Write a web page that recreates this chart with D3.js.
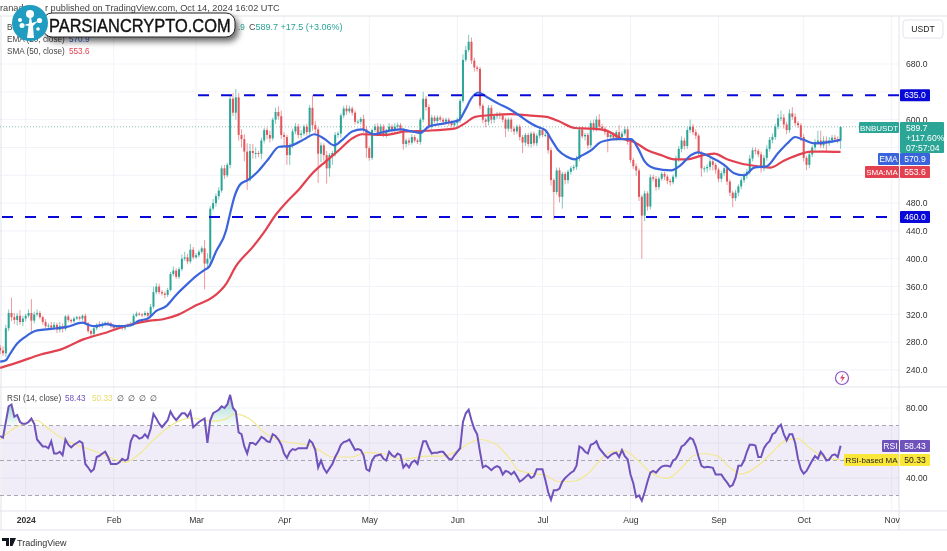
<!DOCTYPE html>
<html lang="en">
<head>
    <meta charset="UTF-8">
    <title>BNBUSDT daily chart</title>
    <script src="https://d3js.org/d3.v7.min.js"></script>
    <style>
        body {
            margin: 0;
            padding: 0;
            background-color: #fff;
            overflow: hidden;
        }
        svg {
            display: block;
            filter: blur(0.3px);
        }
        text {
            font-family: "Liberation Sans", Arial, sans-serif;
        }
        .axis text {
            font-size: 8.6px;
            fill: #333;
        }
        .axis path, .axis line {
            display: none;
        }
        .grid {
            stroke: #f1f3f8;
            stroke-width: 1;
        }
        .frame {
            stroke: #e0e3eb;
            stroke-width: 1;
        }
    </style>
</head>
<body>
    <div id="chart"></div>

    <script>
        // Daily candles, first one is Dec 23 2023. Open = previous close.
        const firstOpen = 272;
        const closes = [
            268,264,300,322,316,312,318,309,314,
            318,322,311,320,322,316,309,303,304,301,305,298,303,299,317,312,310,314,316,314,318,307,296,292,300,305,303,306,308,307,303,
            300,301,303,300,303,304,306,318,321,320,319,322,318,331,352,360,352,350,348,355,378,383,374,385,400,402,396,413,402,
            405,410,415,393,400,472,480,490,498,530,520,535,630,610,632,578,572,554,513,555,552,552,551,570,585,578,573,600,611,605,578,
            575,549,563,583,590,578,580,590,582,617,592,586,551,563,549,530,549,552,578,580,606,616,612,616,610,597,597,601,586,559,
            545,585,590,580,590,578,584,590,584,590,592,586,565,570,567,575,570,568,600,630,618,590,603,598,603,600,597,600,596,592,595,
            600,627,686,700,712,685,675,673,620,600,597,617,600,605,608,606,600,587,600,587,583,590,575,567,578,565,580,566,577,585,
            578,578,556,513,496,527,489,522,513,525,530,532,544,586,576,578,563,595,587,600,590,587,582,575,578,574,582,575,580,586,568,
            542,533,527,489,462,494,475,517,515,503,515,522,518,512,510,518,544,558,570,562,585,590,582,577,552,530,530,532,540,535,528,
            515,523,530,511,495,487,495,504,513,520,525,544,556,555,550,530,545,558,571,575,590,602,603,593,585,609,604,595,592,575,
            545,535,550,560,568,570,563,570,566,570,574,572,570,589.7
        ];
        // Wick length above the body top and below the body bottom, in price units
        const wickUp = [
            4,6,5,5,22,6,4,8,4,
            3,5,20,4,5,3,2,4,3,5,4,3,6,4,2,3,2,3,2,2,2,3,2,2,3,2,5,3,2,2,2,
            2,2,2,2,2,3,3,3,3,2,2,3,2,4,8,5,4,3,3,3,3,6,3,3,6,8,5,8,4,
            3,3,3,12,8,4,6,4,5,4,5,3,4,8,12,6,8,7,12,10,10,8,3,4,3,4,6,3,6,8,8,
            4,3,3,4,5,4,5,3,4,4,18,6,3,4,3,6,3,3,4,3,3,4,5,4,3,3,3,3,6,5,
            3,2,4,5,4,3,3,5,3,5,4,3,2,3,4,4,3,3,3,10,4,4,4,3,3,3,3,3,3,3,3,
            3,3,8,6,10,6,4,3,3,3,3,4,4,3,3,3,3,3,3,3,3,3,3,3,3,3,3,3,3,5,
            3,5,3,4,3,4,4,3,3,3,3,3,4,4,4,3,3,4,5,5,8,4,3,3,3,4,3,10,4,4,4,
            4,3,4,3,3,4,3,4,4,4,3,3,3,3,3,3,4,4,6,4,4,10,4,4,3,3,3,4,5,3,3,
            3,3,4,3,3,3,4,3,4,4,4,5,4,4,3,4,4,5,4,5,4,6,10,5,4,6,9,5,3,3,
            4,3,3,3,4,14,14,6,6,5,4,4,4,0.3
        ];
        const wickDown = [
            5,4,5,4,6,6,8,4,6,
            4,3,18,4,3,3,4,3,5,4,4,5,4,5,3,3,3,2,2,3,3,2,3,3,3,3,2,3,2,3,3,
            3,2,2,3,3,2,2,3,2,2,3,2,3,2,3,3,3,3,5,3,2,3,3,3,3,3,4,3,3,
            2,3,3,37,6,8,3,5,5,3,5,3,5,5,10,8,12,14,14,2,8,8,5,8,4,6,6,3,6,5,6,
            12,14,14,4,4,5,5,3,5,4,8,6,42,12,8,22,12,14,5,4,6,4,5,3,4,4,3,4,5,14,
            4,3,3,3,3,3,4,3,3,3,3,4,8,5,4,3,3,3,4,4,5,3,3,3,3,3,4,3,5,3,3,
            4,5,3,3,3,5,6,4,5,5,8,5,6,5,4,5,4,12,4,5,5,4,5,15,5,4,5,4,4,4,
            3,3,5,8,40,4,8,17,6,5,4,4,4,4,3,6,5,4,4,4,3,3,4,22,4,4,4,3,4,3,4,
            4,4,8,6,62,8,6,4,4,5,4,3,5,5,5,3,3,5,5,5,4,4,4,5,5,12,6,6,5,8,6,
            5,5,4,5,5,13,4,5,4,4,5,4,4,5,4,6,4,4,4,5,4,4,4,6,6,4,4,4,4,6,
            5,8,5,4,4,4,4,4,12,4,4,4,4,12
        ];

        // Moving averages: day number from Jan 1 2024, then value
        const emaDays = [-9,-7,-5.4,-3,0,3.3,6.3,11,14.5,20,22,24.4,28.5,32,36.7,40,43,46,49.5,53,56.5,60,63,64.5,67,70.6,71.7,73.5,75.8,78.2,81.7,85.2,89.3,92.8,98.6,101.6,105,108.6,111.5,115,118.5,122.6,126.7,132,136,139,142,148,152.5,154.8,157,159.5,163,166.5,170,173.5,177,180,183,185.2,187.6,190.5,193.4,195.7,199.2,202.2,204.5,208.6,213.3,215.6,218,221.5,227.3,230.8,234.3,236.7,241.3,246,249.5,253,256.6,261,265,268.3,271,274,277.6,281.6,287];
        const emaValues = [252,254,264,278,288,296,298,300,302,308,305,303,306,303,304,311,314,325,332,348,362,375,384,388,410,441,460,489,508,513,525,542,561,562,573,579,573,563,571,583,586,579,583,586,583,581,590,595,599,614,631,639,631,623,616,607,597,590,585,571,556,547,543,548,556,567,570,572,572,559,540,530,527,535,549,553,546,535,523,520,531,533,552,566,575,571,566,567,570.9];
        const smaDays = [-9,-2,5,12.7,20.3,28.5,36.7,43.7,48.4,54,60,66,70.6,74,80,84.6,87.5,91.6,96.3,101,105.7,110.3,115,118.5,126.7,133.7,140.8,151,154.8,158.3,165.3,171,177,183.4,187.6,193.4,199.2,204,209.7,214.3,219,223.8,228.4,233,237.8,242.5,247,251.9,257.7,262.4,267,271.8,276.5,281,287];
        const smaValues = [243,252,262,270,284,294,305,311,313,320,333,345,364,389,417,442,460,480,500,523,540,556,573,579,578,583,584,587,595,604,607,608,606,604,598,588,587,585,573,568,556,549,543,543,548,551,543,537,533,531,541,549,554,554,553.6];

        // RSI has one value per candle
        const rsiValues = [
            64,63,72,81,82,75,76,72,71,
            71,72,74,71,62,60,58,58,57,61,54,54,55,53,62,59,57.5,59,60,61,60,48,46,43.6,45,52,52.7,54,55,52,48,
            48,48,49,51,50,51,61,64.5,64,62.5,63,65,63,68,76.6,74,71,69,71,73,78,75,73,75,77,77,75,78,69,
            70.5,72,73,74,60,73,77,78,79,81,80,82,87.5,80,78,66,65,58,54,60,60,59,61,63.5,62.5,61,60.5,65,64,62,59,
            54,51.5,55,56.5,56,57,57,57,57,61.5,60,56,46,50,45.5,43,45.5,48,52,55,59,60.5,61,62,59,56,56.5,56,53,45,
            44,50,52.5,53,53.5,51,50,55,53,52,54,53,46,48,46,49,50,48,55,61,61,57,54,54.5,54.5,55,55,53,51,50.5,53,
            55,57,72,77,79,73,68,65,55,46,47,46,44.5,46,46.8,46,42,44,43.5,42,43.5,41,38,39,40.5,42,40,41,45,45,
            45,39,32,27.5,33,33,34,38,40,41.5,43,44,47,58,57,55,54,59,59.6,61,57,55,53,51.5,53,54,54.5,52,56,52.5,50.7,
            42,37,29,30,27,32,38,43,44,43,45,46.5,47,47,46.5,50,51,54,58,59,61,63,62,58,52,47,46,46.4,46.2,45.8,42,
            42,42,39.5,37.5,35,36,40,47,47,50,55,59,59,58.5,52,52,57,59.5,61,65,66,69,70.5,65,61.5,65,65,60,51,45,
            42.5,44,47,50,52.5,51,55,53,50,50.5,53,53.5,52,58.43
        ];
        const rsiMaDays = [-9,-5.4,-0.8,3.9,7.4,12.1,16.8,21.5,26,30.8,34.9,40.2,44.8,49.5,54.2,58.3,65.9,70.6,73.5,78.8,84.6,90.5,96.3,100.4,103.3,108,115,119.7,125.5,132.5,141.9,146.6,152.4,156,159.5,165.3,170,173.5,178.2,182.9,187.5,193.4,198.1,202.8,206.3,211,215.6,220.3,226,230.8,235.5,239,243.7,248.4,251.9,258.9,263.6,267.7,271.8,276.4,281.1,287];
        const rsiMaValues = [62,67,71,73,69,63.4,59.6,57,54.3,51,49,54,61.5,68,72.8,74.3,72.5,73.8,76.6,73.8,65.3,61,59.6,58.7,56,52,52,54.5,54,50.8,52.5,52.5,55.8,59.6,62,59.6,52,44.5,42.6,41.7,38,38.3,42.6,51,55,55.5,50,43,39.8,45.5,53,54,52.5,45.5,42.3,48.3,55.8,61.5,62.5,56.8,52,50.33];
        // Stretches of the RSI where the overbought gradient shows
        const overboughtSpans = [[-7, -3], [65, 75]];

        const priceTicks = [240, 280, 320, 360, 400, 440, 480, 520, 560, 600, 640, 680];
        // These tick labels sit behind the tags on the axis, only the grid line shows
        const hiddenPriceLabels = [520, 560, 640];
        const rsiTicks = [40, 60, 80];
        const hiddenRsiLabels = [60];
        const rsiBands = [70, 50, 30];
        const levels = [635, 460];
        const monthStarts = [[2024,0,"2024"],[2024,1,"Feb"],[2024,2,"Mar"],[2024,3,"Apr"],[2024,4,"May"],[2024,5,"Jun"],[2024,6,"Jul"],[2024,7,"Aug"],[2024,8,"Sep"],[2024,9,"Oct"],[2024,10,"Nov"]];

        const lastPrice = 589.7;
        const emaLast = 570.9;
        const smaLast = 553.6;
        const rsiLast = 58.43;
        const rsiMaLast = 50.33;

        const width = 947;
        const height = 551;
        const axisX = 899;

        const up = "#2aa596";
        const down = "#e2575c";
        const emaColor = "#3a64dc";
        const smaColor = "#e2414f";
        const rsiColor = "#6f52bb";
        const levelColor = "#0808d8";

        const svg = d3.select("#chart").append("svg")
            .attr("width", width)
            .attr("height", height);

        // Day numbers count from Jan 1 2024
        const dayMs = 86400000;
        const jan1 = Date.UTC(2024, 0, 1);
        const dayDate = d => new Date(jan1 + d * dayMs);
        const x = d3.scaleUtc()
            .domain([dayDate(0), new Date(Date.UTC(2024, 10, 1))])
            .range([25.7, 891.7]);
        const y = d3.scaleLinear().domain([240, 680]).range([370, 64]);
        const yRsi = d3.scaleLinear().domain([40, 80]).range([478, 408]);

        const candles = closes.map((c, i) => {
            const o = i === 0 ? firstOpen : closes[i - 1];
            return {
                day: i - 9,
                open: o,
                close: c,
                high: Math.max(o, c) + wickUp[i],
                low: Math.min(o, c) - wickDown[i]
            };
        });

        // Grid
        const monthDates = monthStarts.map(m => new Date(Date.UTC(m[0], m[1], 1)));
        svg.append("g").selectAll("line").data(monthDates).enter().append("line")
            .attr("class", "grid")
            .attr("x1", d => x(d)).attr("x2", d => x(d))
            .attr("y1", 16).attr("y2", 511);
        svg.append("g").selectAll("line").data(priceTicks).enter().append("line")
            .attr("class", "grid")
            .attr("x1", 0).attr("x2", axisX)
            .attr("y1", d => y(d)).attr("y2", d => y(d));
        svg.append("g").selectAll("line").data(rsiTicks).enter().append("line")
            .attr("class", "grid")
            .attr("x1", 0).attr("x2", axisX)
            .attr("y1", d => yRsi(d)).attr("y2", d => yRsi(d));

        // Frame of the panes
        [[0, 16, width, 16], [0, 387, axisX + 48, 387], [0, 511, axisX + 48, 511], [0, 530, axisX + 48, 530],
            [axisX, 16, axisX, 530], [1, 16, 1, 530]].forEach(l => {
            svg.append("line").attr("class", "frame")
                .attr("x1", l[0]).attr("y1", l[1]).attr("x2", l[2]).attr("y2", l[3]);
        });

        // Last price line
        svg.append("line")
            .attr("x1", 0).attr("x2", axisX)
            .attr("y1", y(lastPrice)).attr("y2", y(lastPrice))
            .attr("stroke", "#8fbfb8")
            .attr("stroke-dasharray", "1 2");

        // Candles
        const candle = svg.append("g").selectAll("g").data(candles).enter().append("g");
        candle.append("line")
            .attr("x1", d => x(dayDate(d.day))).attr("x2", d => x(dayDate(d.day)))
            .attr("y1", d => y(d.high)).attr("y2", d => y(d.low))
            .attr("stroke", d => d.close >= d.open ? up : down)
            .attr("stroke-opacity", 0.6);
        candle.append("rect")
            .attr("x", d => x(dayDate(d.day)) - 1)
            .attr("width", 2)
            .attr("y", d => y(Math.max(d.open, d.close)))
            .attr("height", d => Math.max(1, Math.abs(y(d.open) - y(d.close))))
            .attr("fill", d => d.close >= d.open ? up : down);

        // Moving averages
        const avgLine = d3.line()
            .x(d => x(dayDate(d[0])))
            .y(d => y(d[1]))
            .curve(d3.curveMonotoneX);
        svg.append("path")
            .datum(d3.zip(smaDays, smaValues))
            .attr("d", avgLine)
            .attr("fill", "none").attr("stroke", smaColor).attr("stroke-width", 2.2);
        svg.append("path")
            .datum(d3.zip(emaDays, emaValues))
            .attr("d", avgLine)
            .attr("fill", "none").attr("stroke", emaColor).attr("stroke-width", 2.2);

        // Support and resistance levels
        svg.append("line")
            .attr("x1", 198).attr("x2", axisX)
            .attr("y1", y(levels[0])).attr("y2", y(levels[0]))
            .attr("stroke", levelColor).attr("stroke-width", 2).attr("stroke-dasharray", "11 12");
        svg.append("line")
            .attr("x1", 2).attr("x2", 889)
            .attr("y1", y(levels[1])).attr("y2", y(levels[1]))
            .attr("stroke", levelColor).attr("stroke-width", 2).attr("stroke-dasharray", "11 12");

        // RSI pane
        svg.append("rect")
            .attr("x", 2).attr("width", axisX - 2)
            .attr("y", yRsi(70)).attr("height", yRsi(30) - yRsi(70))
            .attr("fill", "#7e57c2").attr("fill-opacity", 0.11);
        svg.append("g").selectAll("line").data(rsiBands).enter().append("line")
            .attr("x1", 0).attr("x2", axisX)
            .attr("y1", d => yRsi(d)).attr("y2", d => yRsi(d))
            .attr("stroke", "#a8a8b2").attr("stroke-dasharray", "4 3");

        const defs = svg.append("defs");
        const obGrad = defs.append("linearGradient")
            .attr("id", "obGrad").attr("x1", 0).attr("x2", 0).attr("y1", 0).attr("y2", 1);
        obGrad.append("stop").attr("offset", "0%").attr("stop-color", "#26a69a").attr("stop-opacity", 0.45);
        obGrad.append("stop").attr("offset", "100%").attr("stop-color", "#26a69a").attr("stop-opacity", 0.03);

        const rsiPoints = rsiValues.map((v, i) => ({ day: i - 9, value: v }));
        const obArea = d3.area()
            .x(d => x(dayDate(d.day)))
            .y0(yRsi(70))
            .y1(d => yRsi(Math.max(d.value, 70)));
        svg.append("g").selectAll("path").data(overboughtSpans).enter().append("path")
            .attr("d", s => obArea(rsiPoints.filter(p => p.day >= s[0] && p.day <= s[1])))
            .attr("fill", "url(#obGrad)");

        svg.append("path")
            .datum(d3.zip(rsiMaDays, rsiMaValues))
            .attr("d", d3.line().x(d => x(dayDate(d[0]))).y(d => yRsi(d[1])).curve(d3.curveMonotoneX))
            .attr("fill", "none").attr("stroke", "#f3e88f").attr("stroke-width", 1.2);
        svg.append("path")
            .datum(rsiPoints)
            .attr("d", d3.line().x(d => x(dayDate(d.day))).y(d => yRsi(d.value)))
            .attr("fill", "none").attr("stroke", rsiColor).attr("stroke-width", 2);

        // Axes
        const priceAxis = d3.axisRight(y)
            .tickValues(priceTicks.filter(t => !hiddenPriceLabels.includes(t)))
            .tickFormat(d3.format(".1f")).tickSize(0).tickPadding(0);
        svg.append("g").attr("class", "axis")
            .attr("transform", "translate(906,0)")
            .call(priceAxis);
        const rsiAxis = d3.axisRight(yRsi)
            .tickValues(rsiTicks.filter(t => !hiddenRsiLabels.includes(t)))
            .tickFormat(d3.format(".2f")).tickSize(0).tickPadding(0);
        svg.append("g").attr("class", "axis")
            .attr("transform", "translate(906,0)")
            .call(rsiAxis);
        const timeAxis = d3.axisBottom(x)
            .tickValues(monthDates)
            .tickFormat((d, i) => monthStarts[i][2])
            .tickSize(0).tickPadding(0);
        const timeG = svg.append("g").attr("class", "axis")
            .attr("transform", "translate(0,517)")
            .call(timeAxis);
        timeG.selectAll("text").filter((d, i) => i === 0).attr("font-weight", "bold");

        // Tags on the axis
        function tag(left, top, w, h, fill, label, color, size) {
            svg.append("rect").attr("x", left).attr("y", top).attr("width", w).attr("height", h)
                .attr("rx", 1).attr("fill", fill);
            svg.append("text").attr("x", left + w / 2).attr("y", top + h / 2 + 3)
                .attr("text-anchor", "middle").attr("font-size", size || 8.6)
                .attr("fill", color).text(label);
        }
        tag(900, y(levels[0]) - 6, 30, 12, levelColor, "635.0", "#fff");
        tag(900, y(levels[1]) - 6, 30, 12, levelColor, "460.0", "#fff");

        tag(859, 122, 40, 11, up, "BNBUSDT", "#fff", 8);
        svg.append("rect").attr("x", 900).attr("y", 122).attr("width", 44).attr("height", 31).attr("rx", 1).attr("fill", up);
        ["589.7", "+117.60%", "07:57:04"].forEach((t, i) => {
            svg.append("text").attr("x", 906).attr("y", 131 + i * 10)
                .attr("font-size", 8.6).attr("fill", "#fff").text(t);
        });

        tag(878, 153, 21, 12, emaColor, "EMA", "#fff");
        tag(900, 153, 30, 12, emaColor, d3.format(".1f")(emaLast), "#fff");
        tag(865, 166, 34, 12, smaColor, "SMA:MA", "#fff", 8);
        tag(900, 166, 30, 12, smaColor, d3.format(".1f")(smaLast), "#fff");

        tag(882, 440, 17, 12, rsiColor, "RSI", "#fff");
        tag(900, 440, 30, 12, rsiColor, d3.format(".2f")(rsiLast), "#fff");
        tag(844, 454, 55, 12, "#fbe73a", "RSI-based MA", "#222", 8);
        tag(900, 454, 30, 12, "#fbe73a", d3.format(".2f")(rsiMaLast), "#222");

        // Currency button
        svg.append("rect").attr("x", 903).attr("y", 20).attr("width", 40).attr("height", 18)
            .attr("rx", 3).attr("fill", "#fff").attr("stroke", "#e0e3eb");
        svg.append("text").attr("x", 923).attr("y", 32).attr("text-anchor", "middle")
            .attr("font-size", 8.6).attr("fill", "#222").text("USDT");

        // Indicator badge near the last RSI value
        svg.append("circle").attr("cx", 842).attr("cy", 378).attr("r", 6.5)
            .attr("fill", "#fff").attr("stroke", "#8d55c6").attr("stroke-width", 1.2);
        svg.append("path").attr("d", "M843.5 373.5 L840 378.5 L842.5 378.5 L841 382.5 L845 377 L842.5 377 Z")
            .attr("fill", "#e0406a");

        // Header text
        svg.append("text").attr("x", 0).attr("y", 11).attr("font-size", 9.2).attr("fill", "#444").text("ranad");
        svg.append("text").attr("x", 45).attr("y", 11).attr("font-size", 9.2).attr("fill", "#444")
            .text("r published on TradingView.com, Oct 14, 2024 16:02 UTC");

        // Legend
        const legendColor = "#444";
        const legendSize = 8.2;
        svg.append("text").attr("x", 7).attr("y", 30).attr("font-size", legendSize).attr("fill", legendColor).text("B");
        svg.append("text").attr("x", 238).attr("y", 30).attr("font-size", legendSize).attr("fill", up)
            .text(".9");
        svg.append("text").attr("x", 249).attr("y", 30).attr("font-size", 9).attr("fill", up)
            .html('<tspan fill="#444">C</tspan>589.7  +17.5 (+3.06%)');
        svg.append("text").attr("x", 7).attr("y", 42).attr("font-size", legendSize).attr("fill", legendColor).text("EMA (20, close)");
        svg.append("text").attr("x", 69).attr("y", 42).attr("font-size", legendSize).attr("fill", emaColor).text(d3.format(".1f")(emaLast));
        svg.append("text").attr("x", 7).attr("y", 54).attr("font-size", legendSize).attr("fill", legendColor).text("SMA (50, close)");
        svg.append("text").attr("x", 69).attr("y", 54).attr("font-size", legendSize).attr("fill", smaColor).text(d3.format(".1f")(smaLast));

        // RSI legend
        svg.append("text").attr("x", 7).attr("y", 401).attr("font-size", legendSize).attr("fill", legendColor).text("RSI (14, close)");
        svg.append("text").attr("x", 65).attr("y", 401).attr("font-size", legendSize).attr("fill", rsiColor).text(d3.format(".2f")(rsiLast));
        svg.append("text").attr("x", 92).attr("y", 401).attr("font-size", legendSize).attr("fill", "#e8dc6a").text(d3.format(".2f")(rsiMaLast));
        [117, 128, 139, 150].forEach(px => {
            svg.append("text").attr("x", px).attr("y", 401).attr("font-size", legendSize).attr("fill", "#333").text("∅");
        });

        // Footer
        svg.append("path")
            .attr("d", "M2 538 H9 V546 H6 V541 H2 Z M10 538 H16 L12.5 546 H10 Z")
            .attr("fill", "#131722");
        svg.append("text").attr("x", 17).attr("y", 546).attr("font-size", 9).attr("fill", "#333").text("TradingView");

        // Site watermark over the top left corner
        const shadow = defs.append("filter").attr("id", "pillShadow")
            .attr("x", "-10%").attr("y", "-30%").attr("width", "120%").attr("height", "190%");
        shadow.append("feDropShadow").attr("dx", 3).attr("dy", 4).attr("stdDeviation", 3)
            .attr("flood-color", "#000").attr("flood-opacity", 0.6);
        svg.append("rect").attr("x", 43).attr("y", 13).attr("width", 192).attr("height", 24).attr("rx", 9)
            .attr("fill", "#fff").attr("stroke", "#222").attr("filter", "url(#pillShadow)");
        // Squeezed sideways because the site's lettering is narrower than Liberation Sans
        svg.append("text").attr("transform", "translate(49,31.5) scale(0.865,1)").attr("font-size", 19)
            .attr("fill", "#111").attr("stroke", "#111").attr("stroke-width", 0.4)
            .text("PARSIANCRYPTO.COM");
        svg.append("circle").attr("cx", 30).attr("cy", 23).attr("r", 18).attr("fill", "#1f9cc0");
        svg.append("path").attr("d", "M27 38 L28.5 26 L24 25 L29 23.5 L29.5 17 L31 17 L32 23 L38 21 L33 26 L34 38 Z").attr("fill", "#fff");
        [[30, 14, 4], [22, 25.5, 2.5], [20, 20, 2], [39.5, 20.5, 2.6], [38, 29, 1.8]].forEach(b => {
            svg.append("circle").attr("cx", b[0]).attr("cy", b[1]).attr("r", b[2]).attr("fill", "#fff");
        });
    </script>
</body>
</html>
